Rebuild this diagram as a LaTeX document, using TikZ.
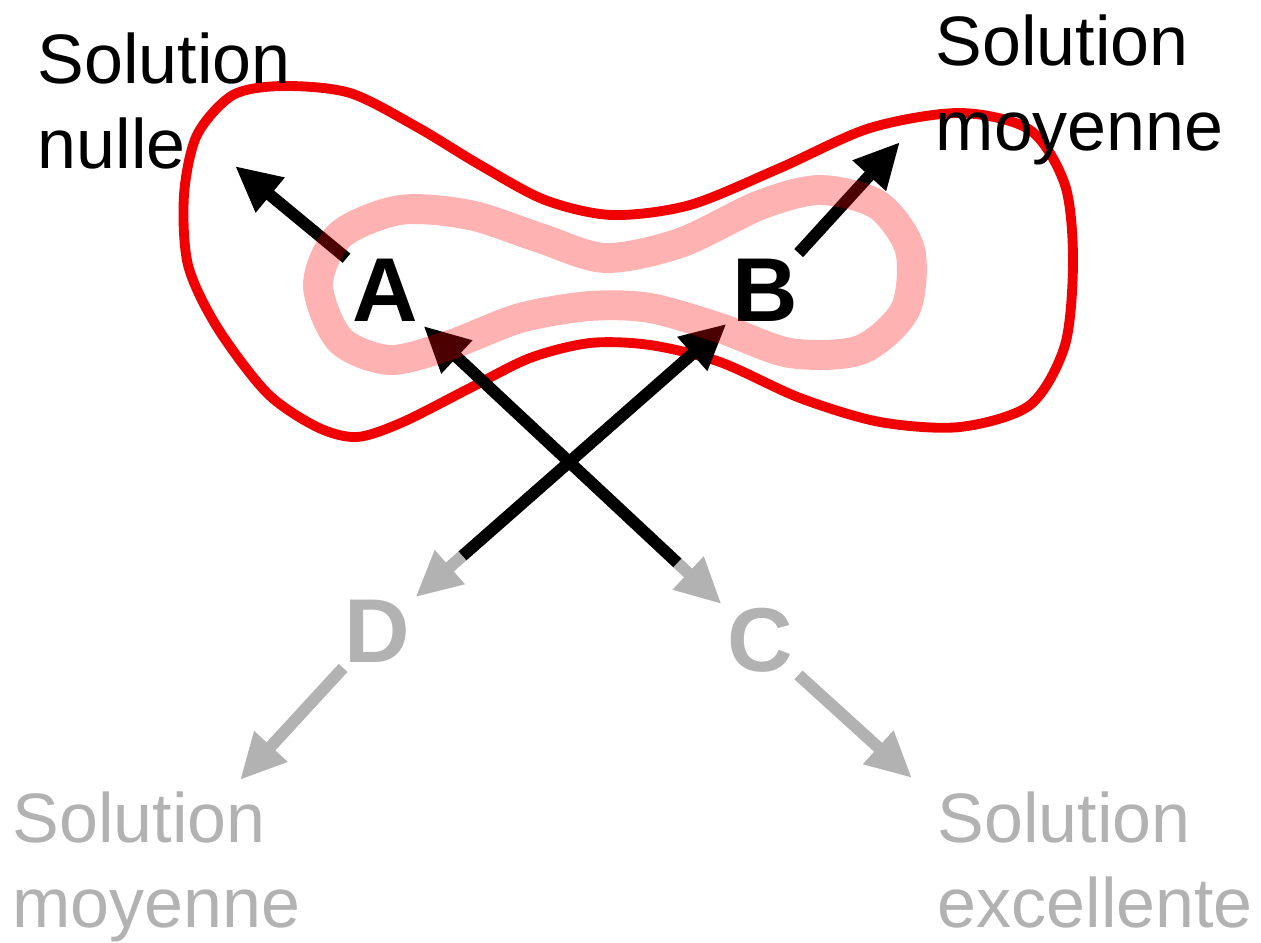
\documentclass[tikz,border=0pt]{standalone}
\usepackage{fontspec}
\setmainfont{Liberation Sans}
\usetikzlibrary{arrows.meta,calc}
\definecolor{rougevif}{RGB}{240,0,0}
\definecolor{grisclair}{RGB}{178,178,178}

\begin{document}
\begin{tikzpicture}[x=0.01cm, y=-0.01cm, >={Triangle[length=13pt,width=12pt]},
    lettre/.style={inner sep=0.05cm, font=\fontsize{25.8}{30}\selectfont\bfseries},
    legende/.style={inner sep=0pt, anchor=base west, align=left, font=\fontsize{19.9}{24.1}\selectfont},
    fleche/.style={->, line width=3.4pt}]
    \useasboundingbox (0,0) rectangle (1261,942);

    % Contour extérieur
    \draw[rougevif, line width=2.8pt] plot[smooth cycle] coordinates {
        (233,95) (283,86) (350,93) (417,127) (480,165) (545,200) (612,215) (690,205)
        (780,168) (870,128) (960,113) (1030,130) (1065,185) (1073,260) (1065,345)
        (1030,405) (960,427) (880,422) (800,398) (720,362) (650,345) (590,343)
        (530,358) (470,388) (403,422) (357,437) (317,427) (267,393) (217,327)
        (188,265) (184,195) (197,135)};

    % Lettres
    \node[lettre] (A) at (385,290) {A};
    \node[lettre] (B) at (765,290) {B};
    \node[lettre, text=grisclair] (C) at (760,640) {C};
    \node[lettre, text=grisclair] (D) at (377,631) {D};

    % Bouts des flèches vers les solutions
    \coordinate (nul) at (235,166);
    \coordinate (moyh) at (900,142);
    \coordinate (moyb) at (240,780);
    \coordinate (exc) at (912,778);
    \coordinate (ac) at ($(A)!0.78!(C)$);
    \coordinate (bd) at ($(B)!0.78!(D)$);

    % Flèches
    \draw[fleche] (A) -- (nul);
    \draw[fleche] (B) -- (moyh);
    \draw[fleche, grisclair] (D) -- (moyb);
    \draw[fleche, grisclair] (C) -- (exc);
    \draw[fleche, <-] (A) -- (ac);
    \draw[fleche, grisclair] (ac) -- (C);
    \draw[fleche, <-] (B) -- (bd);
    \draw[fleche, grisclair] (bd) -- (D);

    % Contour intérieur (transparent)
    \draw[red, opacity=0.3, line width=8.5pt] plot[smooth cycle] coordinates {
        (318,285) (340,235) (400,210) (470,215) (540,238) (605,258) (680,243)
        (760,205) (820,190) (878,205) (910,250) (905,310) (860,350) (790,353)
        (720,328) (650,308) (590,306) (520,318) (450,345) (390,360) (340,340)};

    % Légendes
    \node[legende] (tnul) at (37,168) {Solution\\nulle};
    \node[legende] (tmoyh) at (935,150) {Solution\\moyenne};
    \node[legende, text=grisclair] (tmoyb) at (12,927) {Solution\\moyenne};
    \node[legende, text=grisclair] (texc) at (937,927) {Solution\\excellente};
\end{tikzpicture}
\end{document}
